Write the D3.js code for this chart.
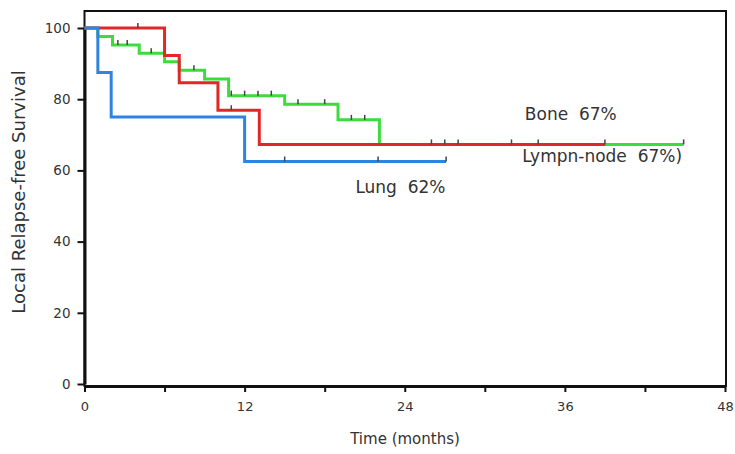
<!DOCTYPE html>
<html>
<head>
<meta charset="utf-8">
<script src="https://cdn.jsdelivr.net/npm/d3@7"></script>
<style>
  html, body { margin: 0; padding: 0; background: #fff; }
  svg text { font-family: "DejaVu Sans", Arial, sans-serif; fill: #333; }
</style>
</head>
<body>
<div id="chart"></div>
<script>
// Kaplan-Meier style step curves
const xTicks = [0, 6, 12, 18, 24, 30, 36, 42, 48];
const xLabels = [0, 12, 24, 36, 48];
const yTicks = [0, 20, 40, 60, 80, 100];

const lungTimes = [0, 1, 2, 12];
const lungSurv = [100, 87.5, 75, 62.5];
const lungEnd = 27.1;
const lungCensor = [15, 22, 27.1];

const boneTimes = [0, 6, 7.1, 10, 13.1];
const boneSurv = [100, 92.3, 84.6, 76.9, 67.3];
const boneEnd = 39;
const boneCensor = [4, 11, 26, 27, 28, 32, 34, 39];

const nodeTimes = [0, 1, 2.1, 4.1, 6, 7.1, 9, 10.8, 15, 19, 22.1];
const nodeSurv = [100, 97.6, 95.2, 92.9, 90.5, 88.1, 85.7, 81.0, 78.6, 74.2, 67.3];
const nodeEnd = 44.9;
const nodeCensor = [2.5, 3.2, 5, 8.2, 11, 12, 13, 14, 16, 18, 20, 21, 44.9];

const labels = [
  { text: 'Bone  67%', t: 33.0, s: 74.2 },
  { text: 'Lympn-node  67%)', t: 32.8, s: 62.3 },
  { text: 'Lung  62%', t: 20.3, s: 53.6 }
];

const width = 735, height = 454;
const svg = d3.select('#chart').append('svg')
  .attr('width', width)
  .attr('height', height);

const x = d3.scaleLinear().domain([0, 48]).range([84.5, 725]);
const y = d3.scaleLinear().domain([0, 100]).range([384, 28]);

// frame
svg.append('rect')
  .attr('x', x(0)).attr('y', 11)
  .attr('width', 726 - x(0)).attr('height', 386 - 11)
  .attr('fill', 'none').attr('stroke', '#111').attr('stroke-width', 2);

// axes
const xAxis = d3.axisBottom(x)
  .tickValues(xTicks)
  .tickSize(6)
  .tickSizeOuter(0)
  .tickFormat(d => xLabels.includes(d) ? d : '');
const xg = svg.append('g')
  .attr('transform', `translate(0,386)`)
  .call(xAxis);
xg.select('.domain').attr('stroke', '#111').attr('stroke-width', 3);
xg.selectAll('.tick line').attr('stroke', '#111').attr('stroke-width', 2);
xg.selectAll('.tick text').attr('dy', '1.2em').style('font-size', '13px');

const yAxis = d3.axisLeft(y)
  .tickValues(yTicks)
  .tickSize(7)
  .tickSizeOuter(0);
const yg = svg.append('g')
  .attr('transform', `translate(${x(0)},0)`)
  .call(yAxis);
yg.select('.domain').attr('stroke', '#111').attr('stroke-width', 3);
yg.selectAll('.tick line').attr('stroke', '#111').attr('stroke-width', 2);
yg.selectAll('.tick text').attr('x', -14).style('font-size', '13.5px');

// axis titles
svg.append('text')
  .attr('x', 405).attr('y', 444)
  .attr('text-anchor', 'middle')
  .style('font-size', '15px')
  .text('Time (months)');

svg.append('text')
  .attr('transform', `translate(25,192) rotate(-90)`)
  .attr('text-anchor', 'middle')
  .style('font-size', '18px')
  .text('Local Relapse-free Survival');

// curves
const line = d3.line()
  .x(d => x(d[0]))
  .y(d => y(d[1]))
  .curve(d3.curveStepAfter);

function drawCurve(times, surv, end, censor, color) {
  const pts = times.map((t, i) => [t, surv[i]]);
  pts.push([end, surv[surv.length - 1]]);
  svg.append('path')
    .datum(pts)
    .attr('d', line)
    .attr('fill', 'none')
    .attr('stroke', color)
    .attr('stroke-width', 3);
  const survAt = t => {
    let v = surv[0];
    times.forEach((tt, i) => { if (tt <= t) v = surv[i]; });
    return v;
  };
  svg.append('g').selectAll('line')
    .data(censor)
    .join('line')
    .attr('x1', d => x(d)).attr('x2', d => x(d))
    .attr('y1', d => y(survAt(d)) - 5)
    .attr('y2', d => y(survAt(d)))
    .attr('stroke', '#444')
    .attr('stroke-width', 1.5);
}

drawCurve(nodeTimes, nodeSurv, nodeEnd, nodeCensor, '#3ddc3d');
drawCurve(boneTimes, boneSurv, boneEnd, boneCensor, '#e02828');
drawCurve(lungTimes, lungSurv, lungEnd, lungCensor, '#2f84e2');

// curve labels
svg.append('g').selectAll('text')
  .data(labels)
  .join('text')
  .attr('x', d => x(d.t))
  .attr('y', d => y(d.s))
  .style('font-size', '17px')
  .style('white-space', 'pre')
  .attr('xml:space', 'preserve')
  .text(d => d.text);
</script>
</body>
</html>
